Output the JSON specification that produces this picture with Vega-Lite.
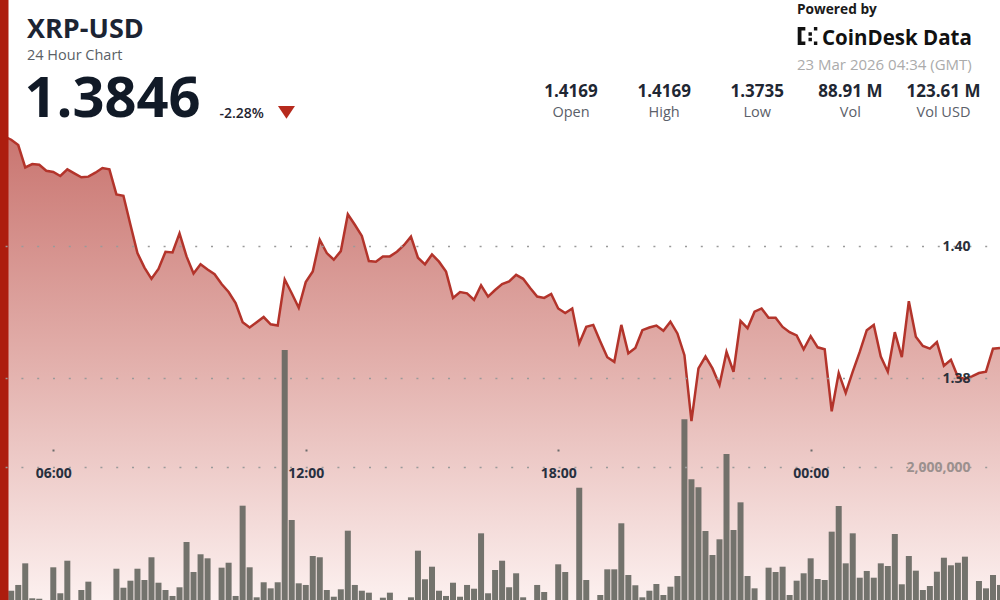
{
  "$schema": "https://vega.github.io/schema/vega-lite/v6.json",
  "width": 1000,
  "height": 600,
  "autosize": {"type": "none"},
  "padding": 0,
  "background": "white",
  "config": {"view": {"stroke": null}, "font": "Open Sans"},
  "datasets": {
    "xrp": [
      {"t":"2026-03-22T04:40Z","price":1.4169,"volume":361000},
      {"t":"2026-03-22T04:50Z","price":1.4167,"volume":361000},
      {"t":"2026-03-22T05:00Z","price":1.4162,"volume":351000},
      {"t":"2026-03-22T05:10Z","price":1.4154,"volume":428000},
      {"t":"2026-03-22T05:20Z","price":1.4120,"volume":717000},
      {"t":"2026-03-22T05:30Z","price":1.4125,"volume":250000},
      {"t":"2026-03-22T05:40Z","price":1.4124,"volume":244000},
      {"t":"2026-03-22T05:50Z","price":1.4115,"volume":150000},
      {"t":"2026-03-22T06:00Z","price":1.4113,"volume":664000},
      {"t":"2026-03-22T06:10Z","price":1.4107,"volume":317000},
      {"t":"2026-03-22T06:20Z","price":1.4117,"volume":752000},
      {"t":"2026-03-22T06:30Z","price":1.4111,"volume":150000},
      {"t":"2026-03-22T06:40Z","price":1.4105,"volume":361000},
      {"t":"2026-03-22T06:50Z","price":1.4106,"volume":472000},
      {"t":"2026-03-22T07:00Z","price":1.4112,"volume":160000},
      {"t":"2026-03-22T07:10Z","price":1.4119,"volume":140000},
      {"t":"2026-03-22T07:20Z","price":1.4117,"volume":180000},
      {"t":"2026-03-22T07:30Z","price":1.4079,"volume":645000},
      {"t":"2026-03-22T07:40Z","price":1.4077,"volume":391000},
      {"t":"2026-03-22T07:50Z","price":1.4033,"volume":485000},
      {"t":"2026-03-22T08:00Z","price":1.3990,"volume":645000},
      {"t":"2026-03-22T08:10Z","price":1.3968,"volume":494000},
      {"t":"2026-03-22T08:20Z","price":1.3951,"volume":798000},
      {"t":"2026-03-22T08:30Z","price":1.3966,"volume":458000},
      {"t":"2026-03-22T08:40Z","price":1.3992,"volume":361000},
      {"t":"2026-03-22T08:50Z","price":1.3991,"volume":281000},
      {"t":"2026-03-22T09:00Z","price":1.4020,"volume":397000},
      {"t":"2026-03-22T09:10Z","price":1.3985,"volume":1002000},
      {"t":"2026-03-22T09:20Z","price":1.3959,"volume":601000},
      {"t":"2026-03-22T09:30Z","price":1.3973,"volume":838000},
      {"t":"2026-03-22T09:40Z","price":1.3965,"volume":784000},
      {"t":"2026-03-22T09:50Z","price":1.3958,"volume":170000},
      {"t":"2026-03-22T10:00Z","price":1.3943,"volume":659000},
      {"t":"2026-03-22T10:10Z","price":1.3931,"volume":725000},
      {"t":"2026-03-22T10:20Z","price":1.3914,"volume":281000},
      {"t":"2026-03-22T10:30Z","price":1.3885,"volume":1487000},
      {"t":"2026-03-22T10:40Z","price":1.3877,"volume":664000},
      {"t":"2026-03-22T10:50Z","price":1.3885,"volume":263000},
      {"t":"2026-03-22T11:00Z","price":1.3893,"volume":464000},
      {"t":"2026-03-22T11:10Z","price":1.3882,"volume":383000},
      {"t":"2026-03-22T11:20Z","price":1.3880,"volume":464000},
      {"t":"2026-03-22T11:30Z","price":1.3950,"volume":3567000},
      {"t":"2026-03-22T11:40Z","price":1.3929,"volume":1296000},
      {"t":"2026-03-22T11:50Z","price":1.3907,"volume":450000},
      {"t":"2026-03-22T12:00Z","price":1.3946,"volume":428000},
      {"t":"2026-03-22T12:10Z","price":1.3962,"volume":815000},
      {"t":"2026-03-22T12:20Z","price":1.4010,"volume":798000},
      {"t":"2026-03-22T12:30Z","price":1.3990,"volume":361000},
      {"t":"2026-03-22T12:40Z","price":1.3980,"volume":271000},
      {"t":"2026-03-22T12:50Z","price":1.3993,"volume":370000},
      {"t":"2026-03-22T13:00Z","price":1.4049,"volume":1153000},
      {"t":"2026-03-22T13:10Z","price":1.4033,"volume":428000},
      {"t":"2026-03-22T13:20Z","price":1.4016,"volume":351000},
      {"t":"2026-03-22T13:30Z","price":1.3978,"volume":325000},
      {"t":"2026-03-22T13:40Z","price":1.3977,"volume":170000},
      {"t":"2026-03-22T13:50Z","price":1.3985,"volume":258000},
      {"t":"2026-03-22T14:00Z","price":1.3985,"volume":325000},
      {"t":"2026-03-22T14:10Z","price":1.3992,"volume":150000},
      {"t":"2026-03-22T14:20Z","price":1.4002,"volume":190000},
      {"t":"2026-03-22T14:30Z","price":1.4015,"volume":263000},
      {"t":"2026-03-22T14:40Z","price":1.3983,"volume":886000},
      {"t":"2026-03-22T14:50Z","price":1.3973,"volume":504000},
      {"t":"2026-03-22T15:00Z","price":1.3988,"volume":672000},
      {"t":"2026-03-22T15:10Z","price":1.3977,"volume":351000},
      {"t":"2026-03-22T15:20Z","price":1.3962,"volume":281000},
      {"t":"2026-03-22T15:30Z","price":1.3922,"volume":458000},
      {"t":"2026-03-22T15:40Z","price":1.3931,"volume":271000},
      {"t":"2026-03-22T15:50Z","price":1.3929,"volume":428000},
      {"t":"2026-03-22T16:00Z","price":1.3919,"volume":378000},
      {"t":"2026-03-22T16:10Z","price":1.3941,"volume":1118000},
      {"t":"2026-03-22T16:20Z","price":1.3924,"volume":317000},
      {"t":"2026-03-22T16:30Z","price":1.3934,"volume":628000},
      {"t":"2026-03-22T16:40Z","price":1.3943,"volume":752000},
      {"t":"2026-03-22T16:50Z","price":1.3947,"volume":397000},
      {"t":"2026-03-22T17:00Z","price":1.3957,"volume":584000},
      {"t":"2026-03-22T17:10Z","price":1.3951,"volume":263000},
      {"t":"2026-03-22T17:20Z","price":1.3937,"volume":160000},
      {"t":"2026-03-22T17:30Z","price":1.3924,"volume":428000},
      {"t":"2026-03-22T17:40Z","price":1.3922,"volume":334000},
      {"t":"2026-03-22T17:50Z","price":1.3928,"volume":180000},
      {"t":"2026-03-22T18:00Z","price":1.3906,"volume":704000},
      {"t":"2026-03-22T18:10Z","price":1.3899,"volume":601000},
      {"t":"2026-03-22T18:20Z","price":1.3906,"volume":150000},
      {"t":"2026-03-22T18:30Z","price":1.3853,"volume":1727000},
      {"t":"2026-03-22T18:40Z","price":1.3878,"volume":494000},
      {"t":"2026-03-22T18:50Z","price":1.3881,"volume":170000},
      {"t":"2026-03-22T19:00Z","price":1.3856,"volume":294000},
      {"t":"2026-03-22T19:10Z","price":1.3832,"volume":637000},
      {"t":"2026-03-22T19:20Z","price":1.3825,"volume":637000},
      {"t":"2026-03-22T19:30Z","price":1.3881,"volume":1252000},
      {"t":"2026-03-22T19:40Z","price":1.3838,"volume":561000},
      {"t":"2026-03-22T19:50Z","price":1.3846,"volume":424000},
      {"t":"2026-03-22T20:00Z","price":1.3873,"volume":263000},
      {"t":"2026-03-22T20:10Z","price":1.3877,"volume":351000},
      {"t":"2026-03-22T20:20Z","price":1.3880,"volume":441000},
      {"t":"2026-03-22T20:30Z","price":1.3872,"volume":294000},
      {"t":"2026-03-22T20:40Z","price":1.3886,"volume":405000},
      {"t":"2026-03-22T20:50Z","price":1.3868,"volume":548000},
      {"t":"2026-03-22T21:00Z","price":1.3835,"volume":2641000},
      {"t":"2026-03-22T21:10Z","price":1.3735,"volume":1840000},
      {"t":"2026-03-22T21:20Z","price":1.3815,"volume":1733000},
      {"t":"2026-03-22T21:30Z","price":1.3833,"volume":1149000},
      {"t":"2026-03-22T21:40Z","price":1.3815,"volume":828000},
      {"t":"2026-03-22T21:50Z","price":1.3790,"volume":1038000},
      {"t":"2026-03-22T22:00Z","price":1.3840,"volume":2178000},
      {"t":"2026-03-22T22:10Z","price":1.3810,"volume":1162000},
      {"t":"2026-03-22T22:20Z","price":1.3887,"volume":1532000},
      {"t":"2026-03-22T22:30Z","price":1.3876,"volume":548000},
      {"t":"2026-03-22T22:40Z","price":1.3901,"volume":383000},
      {"t":"2026-03-22T22:50Z","price":1.3906,"volume":180000},
      {"t":"2026-03-22T23:00Z","price":1.3892,"volume":659000},
      {"t":"2026-03-22T23:10Z","price":1.3892,"volume":601000},
      {"t":"2026-03-22T23:20Z","price":1.3878,"volume":672000},
      {"t":"2026-03-22T23:30Z","price":1.3870,"volume":294000},
      {"t":"2026-03-22T23:40Z","price":1.3865,"volume":485000},
      {"t":"2026-03-22T23:50Z","price":1.3844,"volume":584000},
      {"t":"2026-03-23T00:00Z","price":1.3864,"volume":784000},
      {"t":"2026-03-23T00:10Z","price":1.3847,"volume":508000},
      {"t":"2026-03-23T00:20Z","price":1.3844,"volume":494000},
      {"t":"2026-03-23T00:30Z","price":1.3750,"volume":1140000},
      {"t":"2026-03-23T00:40Z","price":1.3808,"volume":1483000},
      {"t":"2026-03-23T00:50Z","price":1.3778,"volume":717000},
      {"t":"2026-03-23T01:00Z","price":1.3810,"volume":1118000},
      {"t":"2026-03-23T01:10Z","price":1.3840,"volume":525000},
      {"t":"2026-03-23T01:20Z","price":1.3873,"volume":615000},
      {"t":"2026-03-23T01:30Z","price":1.3881,"volume":525000},
      {"t":"2026-03-23T01:40Z","price":1.3833,"volume":717000},
      {"t":"2026-03-23T01:50Z","price":1.3810,"volume":681000},
      {"t":"2026-03-23T02:00Z","price":1.3870,"volume":1109000},
      {"t":"2026-03-23T02:10Z","price":1.3832,"volume":437000},
      {"t":"2026-03-23T02:20Z","price":1.3917,"volume":815000},
      {"t":"2026-03-23T02:30Z","price":1.3863,"volume":619000},
      {"t":"2026-03-23T02:40Z","price":1.3849,"volume":361000},
      {"t":"2026-03-23T02:50Z","price":1.3845,"volume":414000},
      {"t":"2026-03-23T03:00Z","price":1.3855,"volume":605000},
      {"t":"2026-03-23T03:10Z","price":1.3819,"volume":792000},
      {"t":"2026-03-23T03:20Z","price":1.3828,"volume":691000},
      {"t":"2026-03-23T03:30Z","price":1.3802,"volume":725000},
      {"t":"2026-03-23T03:40Z","price":1.3799,"volume":806000},
      {"t":"2026-03-23T03:50Z","price":1.3803,"volume":170000},
      {"t":"2026-03-23T04:00Z","price":1.3808,"volume":481000},
      {"t":"2026-03-23T04:10Z","price":1.3810,"volume":383000},
      {"t":"2026-03-23T04:20Z","price":1.3845,"volume":561000},
      {"t":"2026-03-23T04:30Z","price":1.3846,"volume":428000}
    ],
    "stats": [
      {"stat":"Open","part":"value","text":"1.4169"},
      {"stat":"High","part":"value","text":"1.4169"},
      {"stat":"Low","part":"value","text":"1.3735"},
      {"stat":"Vol","part":"value","text":"88.91 M"},
      {"stat":"Vol USD","part":"value","text":"123.61 M"},
      {"stat":"Open","part":"label","text":"Open"},
      {"stat":"High","part":"label","text":"High"},
      {"stat":"Low","part":"label","text":"Low"},
      {"stat":"Vol","part":"label","text":"Vol"},
      {"stat":"Vol USD","part":"label","text":"Vol USD"}
    ]
  },
  "layer": [
    {
      "layer": [
        {
          "layer": [
            {
              "data": {"name": "xrp"},
              "mark": {
                "type": "area",
                "line": false,
                "opacity": 1,
                "color": {
                  "gradient": "linear", "x1": 0, "y1": 0, "x2": 0, "y2": 1,
                  "stops": [
                    {"offset": 0, "color": "#c97570"},
                    {"offset": 0.5, "color": "#e3b1ad"},
                    {"offset": 1, "color": "#fcf0ef"}
                  ]
                }
              },
              "encoding": {
                "x": {
                  "field": "t", "type": "temporal", "title": null,
                  "scale": {"type": "utc", "nice": false, "padding": 0, "domain": [
                    {"year": 2026, "month": 3, "date": 22, "hours": 4, "minutes": 44, "utc": true},
                    {"year": 2026, "month": 3, "date": 23, "hours": 4, "minutes": 30, "utc": true}
                  ]},
                  "axis": {
                    "orient": "bottom", "offset": -151, "zindex": 1,
                    "values": [
                      {"year": 2026, "month": 3, "date": 22, "hours": 6, "utc": true},
                      {"year": 2026, "month": 3, "date": 22, "hours": 12, "utc": true},
                      {"year": 2026, "month": 3, "date": 22, "hours": 18, "utc": true},
                      {"year": 2026, "month": 3, "date": 23, "hours": 0, "utc": true}
                    ],
                    "format": "%H:%M", "domain": false, "grid": false,
                    "ticks": true, "tickSize": 2, "tickWidth": 2, "tickColor": "#6b6b6b",
                    "labelPadding": 15, "labelFontSize": 14, "labelFontWeight": "bold",
                    "labelColor": "#27303f", "labelFont": "Open Sans", "title": null
                  }
                },
                "y": {
                  "field": "price", "type": "quantitative",
                  "scale": {"domain": [1.346358, 1.437405], "zero": false, "nice": false, "padding": 0},
                  "axis": null
                },
                "y2": {"datum": 1.346358}
              }
            },
            {
              "data": {"values": [{"label": "XRP-USD"}]},
              "mark": {"type": "text", "align": "left", "baseline": "alphabetic", "font": "Open Sans", "fontSize": 27, "fontWeight": "bold", "color": "#1c2433"},
              "encoding": {
                "x": {"datum": {"year": 2026, "month": 3, "date": 22, "hours": 5, "minutes": 22, "seconds": 30, "utc": true}, "type": "temporal"},
                "y": {"datum": 1.431563, "type": "quantitative"},
                "text": {"field": "label"}
              }
            },
            {
              "data": {"values": [{"label": "24 Hour Chart"}]},
              "mark": {"type": "text", "align": "left", "baseline": "alphabetic", "font": "Open Sans", "fontSize": 14.5, "color": "#5a5f66"},
              "encoding": {
                "x": {"datum": {"year": 2026, "month": 3, "date": 22, "hours": 5, "minutes": 22, "seconds": 30, "utc": true}, "type": "temporal"},
                "y": {"datum": 1.4283, "type": "quantitative"},
                "text": {"field": "label"}
              }
            },
            {
              "data": {"values": [{"label": "1.3846"}]},
              "mark": {"type": "text", "align": "left", "baseline": "alphabetic", "font": "Open Sans", "fontSize": 56, "fontWeight": "bold", "color": "#111a27"},
              "encoding": {
                "x": {"datum": {"year": 2026, "month": 3, "date": 22, "hours": 5, "minutes": 19, "utc": true}, "type": "temporal"},
                "y": {"datum": 1.419651, "type": "quantitative"},
                "text": {"field": "label"}
              }
            },
            {
              "data": {"values": [{"label": "-2.28%"}]},
              "mark": {"type": "text", "align": "left", "baseline": "alphabetic", "font": "Open Sans", "fontSize": 14, "fontWeight": 600, "color": "#1f2430"},
              "encoding": {
                "x": {"datum": {"year": 2026, "month": 3, "date": 22, "hours": 9, "minutes": 57, "utc": true}, "type": "temporal"},
                "y": {"datum": 1.419499, "type": "quantitative"},
                "text": {"field": "label"}
              }
            },
            {
              "data": {"values": [{"label": "down"}]},
              "mark": {"type": "point", "shape": "M-1,-0.75L1,-0.75L0,0.75Z", "filled": true, "size": 289, "color": "#b62a1d", "opacity": 1},
              "encoding": {
                "x": {"datum": {"year": 2026, "month": 3, "date": 22, "hours": 11, "minutes": 32, "seconds": 30, "utc": true}, "type": "temporal"},
                "y": {"datum": 1.420334, "type": "quantitative"}
              }
            },
            {
              "data": {"values": [{"label": "Powered by"}]},
              "mark": {"type": "text", "align": "left", "baseline": "alphabetic", "font": "Open Sans", "fontSize": 13.7, "fontWeight": "bold", "color": "#1a1a1a"},
              "encoding": {
                "x": {"datum": {"year": 2026, "month": 3, "date": 22, "hours": 23, "minutes": 40, "seconds": 30, "utc": true}, "type": "temporal"},
                "y": {"datum": 1.435281, "type": "quantitative"},
                "text": {"field": "label"}
              }
            },
            {
              "data": {"values": [{"label": "logo"}]},
              "mark": {"type": "point", "shape": "M-1.2,-1H-0.35V-0.62H-0.78V0.62H-0.35V1H-1.2Z M0,-0.42H0.38V-0.04H0Z M0,0.2H0.38V0.58H0Z M0.6,-1H0.98V-0.62H0.6Z M0.6,0.62H0.98V1H0.6Z", "filled": true, "size": 324, "color": "#111111", "opacity": 1},
              "encoding": {
                "x": {"datum": {"year": 2026, "month": 3, "date": 22, "hours": 23, "minutes": 56, "seconds": 55, "utc": true}, "type": "temporal"},
                "y": {"datum": 1.431942, "type": "quantitative"}
              }
            },
            {
              "data": {"values": [{"label": "CoinDesk Data"}]},
              "mark": {"type": "text", "align": "left", "baseline": "alphabetic", "font": "Open Sans", "fontSize": 20.5, "fontWeight": "bold", "color": "#111111"},
              "encoding": {
                "x": {"datum": {"year": 2026, "month": 3, "date": 23, "hours": 0, "minutes": 16, "seconds": 12, "utc": true}, "type": "temporal"},
                "y": {"datum": 1.430577, "type": "quantitative"},
                "text": {"field": "label"}
              }
            },
            {
              "data": {"values": [{"label": "23 Mar 2026 04:34 (GMT)"}]},
              "mark": {"type": "text", "align": "left", "baseline": "alphabetic", "font": "Open Sans", "fontSize": 15, "color": "#ababab"},
              "encoding": {
                "x": {"datum": {"year": 2026, "month": 3, "date": 22, "hours": 23, "minutes": 40, "seconds": 30, "utc": true}, "type": "temporal"},
                "y": {"datum": 1.426707, "type": "quantitative"},
                "text": {"field": "label"}
              }
            }
          ]
        },
        {
          "data": {"name": "xrp"},
          "mark": {"type": "bar", "width": 6, "color": "#676862", "opacity": 0.92},
          "encoding": {
            "x": {"field": "t", "type": "temporal", "title": null},
            "y": {
              "field": "volume", "type": "quantitative",
              "scale": {"domain": [227100, 8243200], "zero": false, "nice": false, "padding": 0},
              "axis": {
                "orient": "right", "offset": -30, "zindex": 1, "values": [2000000], "format": ",d",
                "grid": true, "gridDash": [2, 13.8], "gridDashOffset": 2.5, "gridColor": "#9a9a9a", "gridWidth": 1.5,
                "domain": false, "ticks": false, "tickSize": 0, "labelPadding": 0, "labelAlign": "right",
                "labelFontSize": 14, "labelFontWeight": "bold", "labelColor": "#9b908e", "labelFont": "Open Sans", "title": null
              }
            }
          }
        },
        {
          "data": {"name": "xrp"},
          "mark": {"type": "line", "color": "#b3342b", "strokeWidth": 2.5},
          "encoding": {
            "x": {"field": "t", "type": "temporal", "title": null},
            "y": {
              "field": "price", "type": "quantitative",
              "scale": {"domain": [1.346358, 1.437405], "zero": false, "nice": false, "padding": 0},
              "axis": {
                "orient": "right", "offset": -30, "zindex": 1, "values": [1.38, 1.40], "format": ".2f",
                "grid": true, "gridDash": [2, 13.8], "gridDashOffset": 2.5, "gridColor": "#9a9a9a", "gridWidth": 1.5,
                "domain": false, "ticks": false, "tickSize": 0, "labelPadding": 0, "labelAlign": "right",
                "labelFontSize": 14, "labelFontWeight": "bold", "labelColor": "#2b303a", "labelFont": "Open Sans", "title": null
              }
            }
          }
        },
        {
          "data": {"values": [{"label": "edge"}]},
          "mark": {"type": "rule", "color": "#ad1d0e", "strokeWidth": 17},
          "encoding": {
            "x": {"datum": {"year": 2026, "month": 3, "date": 22, "hours": 4, "minutes": 44, "utc": true}, "type": "temporal"}
          }
        }
      ],
      "resolve": {"scale": {"y": "independent"}, "axis": {"y": "independent"}}
    },
    {
      "data": {"name": "stats"},
      "encoding": {
        "x": {"field": "stat", "type": "nominal", "axis": null,
              "scale": {"type": "point", "domain": ["Open", "High", "Low", "Vol", "Vol USD"], "range": [571, 943.5], "padding": 0}},
        "y": {"field": "part", "type": "nominal", "axis": null,
              "scale": {"type": "point", "domain": ["value", "label"], "range": [96.5, 117], "padding": 0}},
        "text": {"field": "text"}
      },
      "layer": [
        {
          "transform": [{"filter": "datum.part == 'value'"}],
          "mark": {"type": "text", "align": "center", "baseline": "alphabetic", "font": "Open Sans", "fontSize": 17, "fontWeight": "bold", "color": "#1f2733"}
        },
        {
          "transform": [{"filter": "datum.part == 'label'"}],
          "mark": {"type": "text", "align": "center", "baseline": "alphabetic", "font": "Open Sans", "fontSize": 14.5, "color": "#5b6069"}
        }
      ]
    }
  ],
  "resolve": {"scale": {"x": "independent", "y": "independent"}, "axis": {"x": "independent", "y": "independent"}}
}
